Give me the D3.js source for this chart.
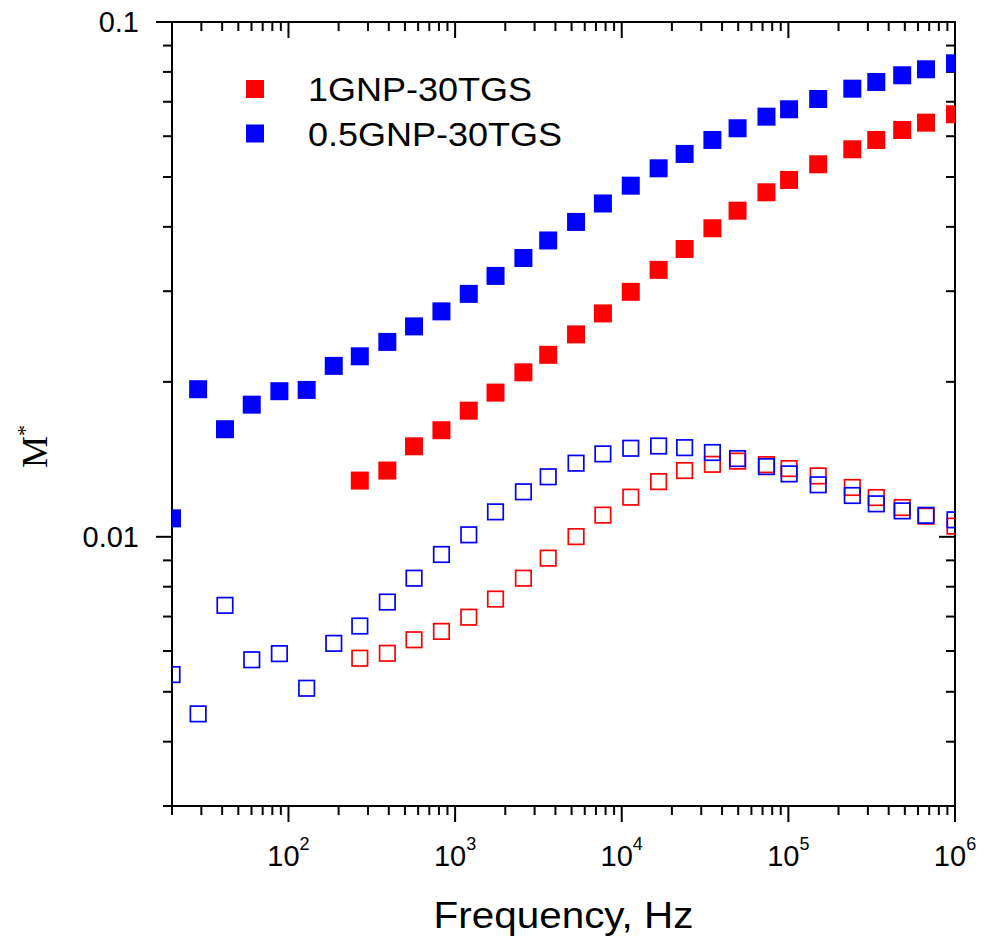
<!DOCTYPE html>
<html>
<head>
<meta charset="utf-8">
<style>
  body { margin: 0; background: #fff; }
  svg { display: block; }
  text { font-family: "Liberation Sans", Arial, sans-serif; fill: #000; }
</style>
</head>
<body>
<svg width="986" height="945"></svg>
<script src="https://d3js.org/d3.v7.min.js"></script>
<script>

// frequency points (Hz)
const freq = [20, 28.7, 41.6, 60.2, 88.2, 128.6, 187, 268, 392, 567, 828, 1208, 1748, 2570,
  3620, 5320, 7710, 11330, 16650, 23850, 35010, 49560, 73900, 101000, 151000, 242000,
  337000, 482000, 670000, 1000000];

// 0.5GNP-30TGS, all frequencies
const blueFilled = [0.01086, 0.01935, 0.01618, 0.01806, 0.01918, 0.01929, 0.02148, 0.02242,
  0.02391, 0.02563, 0.02741, 0.02964, 0.03212, 0.03480, 0.03764, 0.04089, 0.04441, 0.04809,
  0.05198, 0.05543, 0.05900, 0.06217, 0.06548, 0.06768, 0.07087, 0.07421, 0.07646, 0.07880,
  0.08094, 0.08313];
const blueOpen = [0.00540, 0.00453, 0.00736, 0.00577, 0.00593, 0.00508, 0.00621, 0.00671,
  0.00747, 0.00831, 0.00924, 0.01009, 0.01118, 0.01223, 0.01308, 0.01390, 0.01449, 0.01486,
  0.01501, 0.01490, 0.01458, 0.01419, 0.01369, 0.01325, 0.01262, 0.01203, 0.01159, 0.01123,
  0.01101, 0.01079];

// 1GNP-30TGS, starts at the 8th frequency
const redStart = 7;
const redFilled = [0.01286, 0.01345, 0.01499, 0.01611, 0.01758, 0.01906, 0.02087, 0.02257,
  0.02473, 0.02716, 0.02991, 0.03300, 0.03623, 0.03975, 0.04300, 0.04669, 0.04934, 0.05292,
  0.05659, 0.05900, 0.06170, 0.06375, 0.06619];
const redOpen = [0.00581, 0.00594, 0.00631, 0.00655, 0.00698, 0.00757, 0.00831, 0.00909,
  0.01001, 0.01102, 0.01194, 0.01280, 0.01345, 0.01383, 0.01403, 0.01381, 0.01357, 0.01313,
  0.01247, 0.01192, 0.01140, 0.01097, 0.01049];

const legendNames = ["1GNP-30TGS", "0.5GNP-30TGS"];
const legendColors = ["#ff0000", "#0000ff"];

const xMajor = [100, 1000, 10000, 100000, 1000000];
const xMajorExp = ["2", "3", "4", "5", "6"];
const yMajor = [0.01, 0.1];
const yMajorLabel = ["0.01", "0.1"];

const pLeft = 172, pRight = 955, pTop = 22, pBottom = 806;

const x = d3.scaleLog().domain([20, 1e6]).range([pLeft, pRight]);
const y = d3.scaleLog().domain([0.003, 0.1]).range([pBottom, pTop]);

const svg = d3.select("svg");

svg.append("defs").append("clipPath").attr("id", "plotclip")
  .append("rect")
  .attr("x", pLeft).attr("y", pTop)
  .attr("width", pRight - pLeft).attr("height", pBottom - pTop);

// minor tick values
const xMinor = [];
for (let e = 1; e <= 5; e++) {
  for (let m = 2; m <= 9; m++) {
    const v = m * Math.pow(10, e);
    if (v >= 20 && v <= 1e6) xMinor.push(v);
  }
}
const yMinor = [];
for (let e = -3; e <= -2; e++) {
  for (let m = 2; m <= 9; m++) {
    const v = m * Math.pow(10, e);
    if (v >= 0.003 - 1e-9 && v <= 0.1) yMinor.push(v);
  }
}

const majorLen = 16, minorLen = 9;
const ticks = svg.append("g").attr("stroke", "#000").attr("stroke-width", 2);

function xTicks(values, len) {
  // bottom: outward, top: inward
  ticks.selectAll(null).data(values).enter().append("line")
    .attr("x1", d => x(d)).attr("x2", d => x(d))
    .attr("y1", pBottom).attr("y2", pBottom + len);
  ticks.selectAll(null).data(values).enter().append("line")
    .attr("x1", d => x(d)).attr("x2", d => x(d))
    .attr("y1", pTop).attr("y2", pTop + len);
}
function yTicks(values, len) {
  // left: outward, right: inward
  ticks.selectAll(null).data(values).enter().append("line")
    .attr("y1", d => y(d)).attr("y2", d => y(d))
    .attr("x1", pLeft).attr("x2", pLeft - len);
  ticks.selectAll(null).data(values).enter().append("line")
    .attr("y1", d => y(d)).attr("y2", d => y(d))
    .attr("x1", pRight).attr("x2", pRight - len);
}
xTicks(xMinor, minorLen);
xTicks(xMajor, majorLen);
yTicks(yMinor, minorLen);
yTicks(yMajor, majorLen);

// frame
svg.append("rect")
  .attr("x", pLeft).attr("y", pTop)
  .attr("width", pRight - pLeft).attr("height", pBottom - pTop)
  .attr("fill", "none").attr("stroke", "#000").attr("stroke-width", 2);

// tick labels
const xl = svg.append("g").selectAll("text")
  .data(xMajor)
  .enter()
  .append("text")
  .attr("x", d => x(d))
  .attr("y", 866)
  .attr("text-anchor", "middle")
  .attr("font-size", 29);
xl.append("tspan").text("10");
xl.append("tspan").attr("font-size", 18).attr("dy", -16).text((d, i) => xMajorExp[i]);

svg.append("g").selectAll("text")
  .data(yMajor)
  .enter()
  .append("text")
  .attr("x", 139)
  .attr("y", d => y(d) + 10)
  .attr("text-anchor", "end")
  .attr("font-size", 29)
  .text((d, i) => yMajorLabel[i]);

// axis titles
svg.append("text")
  .attr("x", (pLeft + pRight) / 2)
  .attr("y", 928)
  .attr("text-anchor", "middle")
  .attr("font-size", 36)
  .attr("textLength", 260)
  .attr("lengthAdjust", "spacingAndGlyphs")
  .text("Frequency, Hz");

const yt = svg.append("text")
  .attr("transform", "translate(47,468) rotate(-90)")
  .attr("font-size", 36)
  .style("font-family", "'Liberation Serif', 'Times New Roman', serif");
yt.append("tspan").text("M");
yt.append("tspan").attr("font-size", 22).attr("dy", -15).text("*");

// data
const plot = svg.append("g").attr("clip-path", "url(#plotclip)");

function series(vals, offset) {
  return vals.map((v, i) => ({ f: freq[i + offset], v: v }));
}

function openSquares(data, color) {
  const s = 15.5;
  plot.append("g").selectAll("rect")
    .data(data)
    .enter()
    .append("rect")
    .attr("x", d => x(d.f) - s / 2)
    .attr("y", d => y(d.v) - s / 2)
    .attr("width", s).attr("height", s)
    .attr("fill", "none")
    .attr("stroke", color)
    .attr("stroke-width", 1.7);
}
function filledSquares(data, color) {
  const s = 18;
  plot.append("g").selectAll("rect")
    .data(data)
    .enter()
    .append("rect")
    .attr("x", d => x(d.f) - s / 2)
    .attr("y", d => y(d.v) - s / 2)
    .attr("width", s).attr("height", s)
    .attr("fill", color);
}

openSquares(series(redOpen, redStart), "#ff0000");
openSquares(series(blueOpen, 0), "#0000ff");
filledSquares(series(redFilled, redStart), "#ff0000");
filledSquares(series(blueFilled, 0), "#0000ff");

// legend
const legend = svg.append("g");
const legendY = [89, 133.5];
const legendLen = [224, 254];
legend.selectAll("rect")
  .data(legendNames)
  .enter()
  .append("rect")
  .attr("x", 246)
  .attr("y", (d, i) => legendY[i] - 9)
  .attr("width", 18).attr("height", 18)
  .attr("fill", (d, i) => legendColors[i]);
legend.selectAll("text")
  .data(legendNames)
  .enter()
  .append("text")
  .attr("x", 308)
  .attr("y", (d, i) => legendY[i] + 12)
  .attr("font-size", 33)
  .attr("textLength", (d, i) => legendLen[i])
  .attr("lengthAdjust", "spacingAndGlyphs")
  .text(d => d);

</script>
</body>
</html>
